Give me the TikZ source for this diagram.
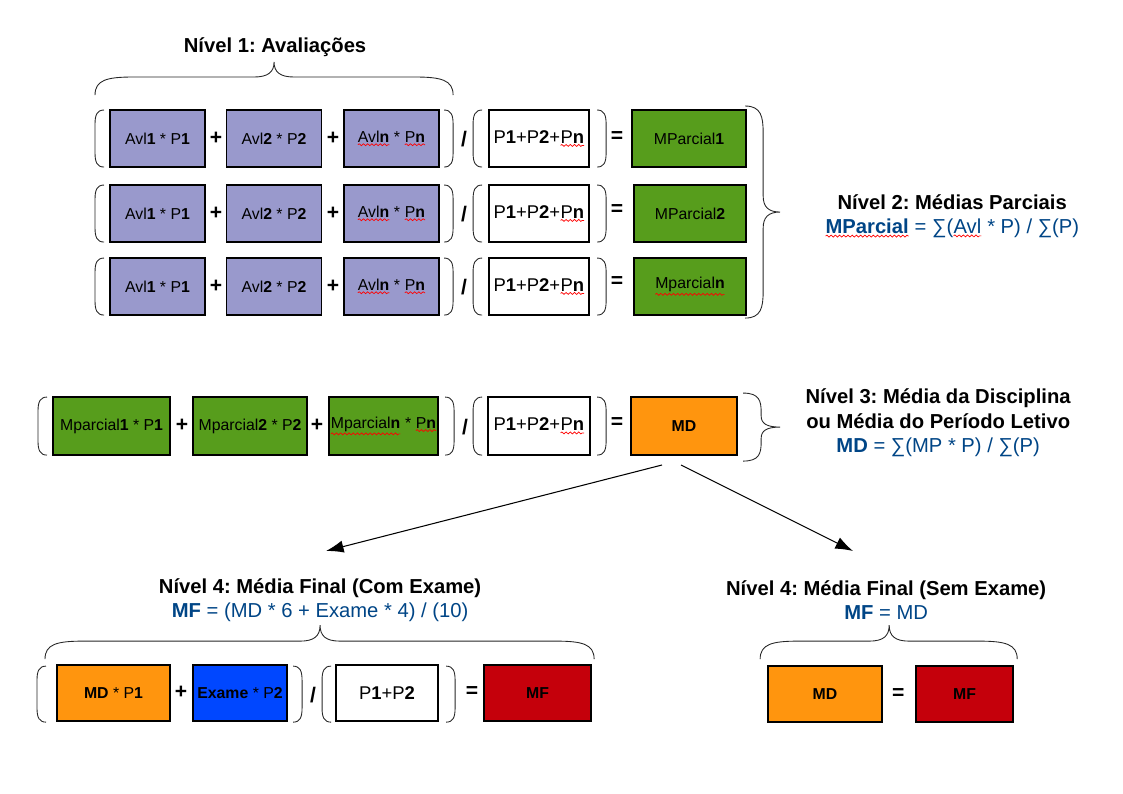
\documentclass[tikz,border=0pt]{standalone}
\usepackage{fontspec}
\setmainfont{Liberation Sans}
\usepackage{xcolor}
\usepackage{tikz-network}
\usetikzlibrary{arrows.meta,decorations.pathmorphing}
\frenchspacing

\definecolor{formulablue}{RGB}{0,69,134}
\newcommand{\boxfont}{\fontsize{9}{11}\selectfont}
\newcommand{\somafont}{\fontsize{10.5}{12}\selectfont}
\NewDocumentCommand{\squig}{m}{\tikz[baseline=(sq.base)]{\node[shape=rectangle,inner sep=0pt,outer sep=0pt,minimum width=0pt,minimum height=0pt,draw=none,fill=none] (sq) {#1};\draw[red,line width=0.4pt,decorate,decoration={snake,amplitude=0.55pt,segment length=2.4pt}] ([yshift=-1.3pt]sq.south west) -- ([yshift=-1.3pt]sq.south east);}}
\newcommand{\parL}[3]{\draw[parline] (#1+9,#2) .. controls (#1+2,#2) and (#1,#2+5) .. (#1,#2+14) -- (#1,#3-14) .. controls (#1,#3-5) and (#1+2,#3) .. (#1+9,#3);}
\newcommand{\parR}[3]{\draw[parline] (#1-9,#2) .. controls (#1-2,#2) and (#1,#2+5) .. (#1,#2+14) -- (#1,#3-14) .. controls (#1,#3-5) and (#1-2,#3) .. (#1-9,#3);}
\newcommand{\braceH}[6]{\draw[parline] (#1,#4) .. controls (#1,#5+3) and (#1+12,#5) .. (#1+38,#5) -- (#3-20,#5) .. controls (#3-6,#5) and (#3,#5-5) .. (#3,#6) .. controls (#3,#5-5) and (#3+6,#5) .. (#3+20,#5) -- (#2-38,#5) .. controls (#2-12,#5) and (#2,#5+3) .. (#2,#4);}
\newcommand{\braceV}[7]{\draw[parline] (#1,#4) .. controls (#2-2,#4) and (#2,#4+0.4*#7) .. (#2,#4+#7) -- (#2,#6-0.6*#7) .. controls (#2,#6-0.2*#7) and (#2+5,#6) .. (#3,#6) .. controls (#2+5,#6) and (#2,#6+0.2*#7) .. (#2,#6+0.6*#7) -- (#2,#5-#7) .. controls (#2,#5-0.4*#7) and (#2-2,#5) .. (#1,#5);}

\begin{document}
\begin{tikzpicture}[
        cell/.style 2 args={rectangle, draw=black, line width=0.6pt, minimum width=#1cm, minimum height=#2cm, inner sep=0pt},
        parline/.style={draw=black!85, line width=0.5pt},
        head/.style={font=\fontsize{11.5}{14}\selectfont, align=center, inner sep=0pt},
        op/.style={font=\fontsize{12}{14}\selectfont\bfseries, inner sep=0pt},
        seta/.style={draw=black, line width=0.6pt, -{Latex[length=10pt,width=7pt]}}]
        \useasboundingbox (0,0) rectangle (22.46,-15.88);
        \Vertex[x=3.15, y=-2.77, label={Avl\textbf{1} * P\textbf{1}}, fontsize=\boxfont, RGB, color={153,153,204}, style={cell={1.9}{1.14}}]{avl11}
        \Vertex[x=5.48, y=-2.77, label={Avl\textbf{2} * P\textbf{2}}, fontsize=\boxfont, RGB, color={153,153,204}, style={cell={1.9}{1.14}}]{avl12}
        \Vertex[x=7.83, y=-2.77, label={\squig{Avl\textbf{n}} * \squig{P\textbf{n}}}, fontsize=\boxfont, RGB, color={153,153,204}, style={cell={1.9}{1.14}}]{avl1n}
        \Vertex[x=10.78, y=-2.77, label={P\textbf{1}+P\textbf{2}+\squig{P\textbf{n}}}, fontsize=\somafont, RGB, color={255,255,255}, style={cell={2.0}{1.14}}]{soma1}
        \Vertex[x=13.78, y=-2.77, label={MParcial\textbf{1}}, fontsize=\boxfont, RGB, color={87,157,28}, style={cell={2.28}{1.14}}]{mparcial1}
        \Vertex[x=3.15, y=-4.27, label={Avl\textbf{1} * P\textbf{1}}, fontsize=\boxfont, RGB, color={153,153,204}, style={cell={1.9}{1.14}}]{avl21}
        \Vertex[x=5.48, y=-4.27, label={Avl\textbf{2} * P\textbf{2}}, fontsize=\boxfont, RGB, color={153,153,204}, style={cell={1.9}{1.14}}]{avl22}
        \Vertex[x=7.83, y=-4.27, label={\squig{Avl\textbf{n}} * \squig{P\textbf{n}}}, fontsize=\boxfont, RGB, color={153,153,204}, style={cell={1.9}{1.14}}]{avl2n}
        \Vertex[x=10.78, y=-4.27, label={P\textbf{1}+P\textbf{2}+\squig{P\textbf{n}}}, fontsize=\somafont, RGB, color={255,255,255}, style={cell={2.0}{1.14}}]{soma2}
        \Vertex[x=13.8, y=-4.27, label={MParcial\textbf{2}}, fontsize=\boxfont, RGB, color={87,157,28}, style={cell={2.24}{1.14}}]{mparcial2}
        \Vertex[x=3.15, y=-5.73, label={Avl\textbf{1} * P\textbf{1}}, fontsize=\boxfont, RGB, color={153,153,204}, style={cell={1.9}{1.14}}]{avl31}
        \Vertex[x=5.48, y=-5.73, label={Avl\textbf{2} * P\textbf{2}}, fontsize=\boxfont, RGB, color={153,153,204}, style={cell={1.9}{1.14}}]{avl32}
        \Vertex[x=7.83, y=-5.73, label={\squig{Avl\textbf{n}} * \squig{P\textbf{n}}}, fontsize=\boxfont, RGB, color={153,153,204}, style={cell={1.9}{1.14}}]{avl3n}
        \Vertex[x=10.78, y=-5.73, label={P\textbf{1}+P\textbf{2}+\squig{P\textbf{n}}}, fontsize=\somafont, RGB, color={255,255,255}, style={cell={2.0}{1.14}}]{soma3}
        \Vertex[x=13.8, y=-5.73, label={\squig{Mparcial\textbf{n}}}, fontsize=\boxfont, RGB, color={87,157,28}, style={cell={2.24}{1.14}}]{mparcialn}
        \Vertex[x=2.23, y=-8.52, label={Mparcial\textbf{1} * P\textbf{1}}, fontsize=\boxfont, RGB, color={87,157,28}, style={cell={2.34}{1.16}}]{mp1}
        \Vertex[x=5.0, y=-8.52, label={Mparcial\textbf{2} * P\textbf{2}}, fontsize=\boxfont, RGB, color={87,157,28}, style={cell={2.28}{1.16}}]{mp2}
        \Vertex[x=7.67, y=-8.52, label={\squig{Mparcial\textbf{n}} * \squig{P\textbf{n}}}, fontsize=\boxfont, RGB, color={87,157,28}, style={cell={2.18}{1.16}}]{mpn}
        \Vertex[x=10.78, y=-8.52, label={P\textbf{1}+P\textbf{2}+\squig{P\textbf{n}}}, fontsize=\somafont, RGB, color={255,255,255}, style={cell={2.04}{1.16}}]{soma4}
        \Vertex[x=13.68, y=-8.52, label={\textbf{MD}}, fontsize=\boxfont, RGB, color={255,149,14}, style={cell={2.12}{1.16}}]{md}
        \Vertex[x=2.27, y=-13.86, label={\textbf{MD} * P\textbf{1}}, fontsize=\boxfont, RGB, color={255,149,14}, style={cell={2.26}{1.12}}]{mdpeso}
        \Vertex[x=4.8, y=-13.86, label={\textbf{Exame} * P\textbf{2}}, fontsize=\boxfont, RGB, color={0,71,255}, style={cell={1.88}{1.12}}]{exame}
        \Vertex[x=7.74, y=-13.86, label={P\textbf{1}+P\textbf{2}}, fontsize=\somafont, RGB, color={255,255,255}, style={cell={2.04}{1.12}}]{soma5}
        \Vertex[x=10.75, y=-13.86, label={\textbf{MF}}, fontsize=\boxfont, RGB, color={197,0,11}, style={cell={2.14}{1.12}}]{mfcom}
        \Vertex[x=16.5, y=-13.88, label={\textbf{MD}}, fontsize=\boxfont, RGB, color={255,149,14}, style={cell={2.28}{1.12}}]{mdsem}
        \Vertex[x=19.29, y=-13.88, label={\textbf{MF}}, fontsize=\boxfont, RGB, color={197,0,11}, style={cell={1.94}{1.12}}]{mfsem}
        \coordinate (saida1) at (13.24,-9.30);
        \coordinate (saida2) at (13.62,-9.30);
        \coordinate (comexame) at (6.52,-11.02);
        \coordinate (semexame) at (17.06,-11.02);
        \draw[seta] (saida1) -- (comexame);
        \draw[seta] (saida2) -- (semexame);
        \begin{scope}[x=0.02cm, y=-0.02cm]
        \node[head] (nivel1) at (275,47) {\textbf{Nível 1: Avaliações}};
        \node[head] (nivel2) at (952,216) {\textbf{Nível 2: Médias Parciais}\\ \textcolor{formulablue}{\textbf{\squig{MParcial}} = ∑(\squig{Avl} * P) / ∑(P)}};
        \node[head] (nivel3) at (938,423) {\textbf{Nível 3: Média da Disciplina}\\ \textbf{ou Média do Período Letivo}\\ \textcolor{formulablue}{\textbf{MD} = ∑(MP * P) / ∑(P)}};
        \node[head] (nivel4c) at (320,600) {\textbf{Nível 4: Média Final (Com Exame)}\\ \textcolor{formulablue}{\textbf{MF} = (MD * 6 + Exame * 4) / (10)}};
        \node[head] (nivel4s) at (886,600) {\textbf{Nível 4: Média Final (Sem Exame)}\\ \textcolor{formulablue}{\textbf{MF} = MD}};
        \node[op] (mais11) at (216,138) {+};
        \node[op] (mais12) at (333,138) {+};
        \node[op] (div1) at (464,139) {/};
        \node[op] (igual1) at (617,137) {=};
        \node[op] (mais21) at (216,213) {+};
        \node[op] (mais22) at (333,213) {+};
        \node[op] (div2) at (464,214) {/};
        \node[op] (igual2) at (617,210) {=};
        \node[op] (mais31) at (216,286) {+};
        \node[op] (mais32) at (333,286) {+};
        \node[op] (div3) at (464,287) {/};
        \node[op] (igual3) at (617,282) {=};
        \node[op] (mais41) at (182,425) {+};
        \node[op] (mais42) at (317,425) {+};
        \node[op] (div4) at (465,427) {/};
        \node[op] (igual4) at (617,423) {=};
        \node[op] (mais5) at (181,692) {+};
        \node[op] (div5) at (313,695) {/};
        \node[op] (igual5) at (472,692) {=};
        \node[op] (igual6) at (898,694) {=};
        \parL{95}{110}{167} \parR{453}{110}{167} \parL{473}{110}{167} \parR{606}{110}{167}
        \parL{95}{185}{242} \parR{453}{185}{242} \parL{473}{185}{242} \parR{606}{185}{242}
        \parL{95}{258}{315} \parR{453}{258}{315} \parL{473}{258}{315} \parR{606}{258}{315}
        \parL{38}{397}{455} \parR{454}{397}{455} \parL{473}{397}{455} \parR{606}{397}{455}
        \parL{37}{666}{722} \parR{302}{666}{722} \parL{322}{666}{722} \parR{455}{666}{722}
        \braceH{95}{453}{274}{95}{77}{62}
        \braceV{745}{763}{780}{106}{318}{212}{27}
        \braceV{743}{761}{780}{393}{461}{427}{19}
        \braceH{45}{594}{320}{659}{641}{625}
        \braceH{760}{1017}{889}{659}{641}{625}
        \end{scope}
    \end{tikzpicture}
\end{document}
